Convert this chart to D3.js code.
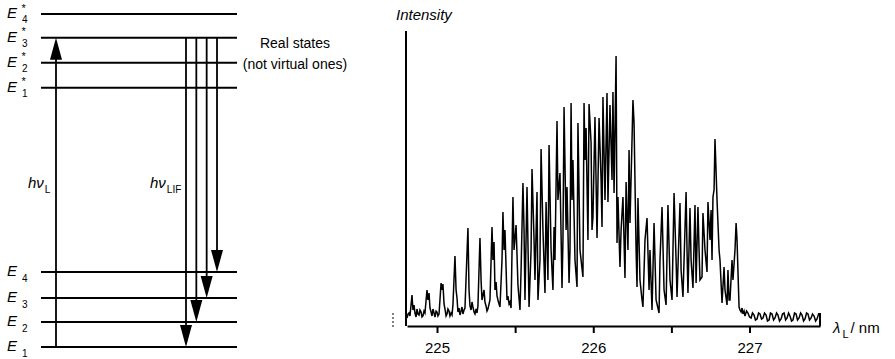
<!DOCTYPE html>
<html>
<head>
<meta charset="utf-8">
<script src="https://cdn.jsdelivr.net/npm/d3@7/dist/d3.min.js"></script>
<style>
  body { margin: 0; background: #fff; }
  svg { display: block; font-family: "Liberation Sans", Arial, sans-serif; }
</style>
</head>
<body>
<div id="chart"></div>
<script>
// energy levels (arbitrary units): ground manifold E1..E4, excited manifold E1*..E4*
const groundLevels = [0, 1, 1.96, 3];
const excitedLevels = [10.35, 11.35, 12.35, 13.3];
// laser excitation E1 -> E3*, fluorescence E3* -> E1..E4
const laserFrom = 0;
const laserTo = 2;
const lifTargets = [0, 1, 2, 3];

// LIF excitation spectrum, [wavelength nm, intensity a.u.]
const bandLow = [
  [224.808, 8], [224.815, 12], [224.821, 13], [224.827, 10], [224.840, 31], [224.846, 16], [224.853, 21], [224.859, 13],
  [224.866, 9], [224.872, 17], [224.878, 12], [224.885, 11], [224.891, 16], [224.898, 14], [224.904, 9], [224.910, 10],
  [224.917, 15], [224.923, 13], [224.936, 36], [224.942, 26], [224.949, 33], [224.955, 18], [224.962, 14], [224.968, 10],
  [224.974, 17], [224.981, 13], [224.987, 9], [224.994, 15], [225.000, 14], [225.006, 10], [225.013, 12], [225.026, 43],
  [225.032, 36], [225.038, 42], [225.045, 22], [225.051, 17], [225.058, 10], [225.064, 12], [225.070, 17], [225.077, 15],
  [225.083, 10], [225.090, 13], [225.096, 11], [225.102, 21], [225.115, 70], [225.122, 36], [225.128, 28], [225.134, 14],
  [225.141, 18], [225.147, 11], [225.154, 15], [225.160, 19], [225.166, 12], [225.173, 16], [225.179, 18],
  [225.198, 98], [225.205, 36], [225.211, 20], [225.218, 16], [225.224, 24], [225.230, 19], [225.237, 14], [225.243, 12],
  [225.250, 17], [225.256, 13], [225.262, 20], [225.275, 88], [225.282, 46], [225.288, 26], [225.301, 36], [225.307, 24],
  [225.314, 20], [225.320, 15], [225.326, 17], [225.339, 26], [225.352, 99], [225.358, 66], [225.365, 84], [225.371, 36],
  [225.378, 44], [225.384, 30], [225.390, 26], [225.397, 22], [225.403, 19], [225.416, 66], [225.422, 114], [225.429, 76],
  [225.435, 96], [225.448, 26], [225.454, 30], [225.461, 22], [225.467, 24], [225.474, 18], [225.486, 129], [225.493, 76]
];
const bandMid = [
  [225.506, 101], [225.518, 41], [225.531, 16], [225.538, 56], [225.550, 143], [225.557, 96], [225.563, 26],
  [225.576, 139], [225.589, 19], [225.602, 76], [225.608, 157], [225.621, 86], [225.627, 46], [225.640, 134],
  [225.646, 26], [225.659, 66], [225.666, 177], [225.678, 96], [225.691, 33], [225.698, 124], [225.710, 46],
  [225.717, 181], [225.730, 76], [225.742, 36], [225.749, 99], [225.755, 66], [225.768, 205], [225.774, 126],
  [225.787, 153], [225.800, 38], [225.806, 86], [225.813, 219], [225.826, 96], [225.832, 139], [225.845, 43],
  [225.851, 76], [225.858, 223], [225.864, 126], [225.870, 166], [225.883, 66], [225.896, 39], [225.902, 203],
  [225.915, 76], [225.934, 49], [225.941, 223], [225.947, 166], [225.954, 198], [225.966, 86], [225.973, 222],
  [225.986, 183], [225.992, 96], [225.998, 109], [226.011, 209], [226.024, 88], [226.037, 208], [226.050, 146],
  [226.056, 99], [226.062, 229], [226.075, 126], [226.088, 233], [226.094, 124], [226.107, 221], [226.120, 146],
  [226.126, 234], [226.133, 133], [226.146, 270], [226.152, 83], [226.158, 129], [226.171, 59], [226.178, 96],
  [226.190, 129], [226.203, 48], [226.210, 144], [226.222, 76], [226.229, 176], [226.235, 103], [226.248, 186],
  [226.254, 226], [226.261, 203], [226.274, 76], [226.280, 39], [226.286, 128]
];
const bandHigh = [
  [226.299, 46], [226.312, 26], [226.318, 19], [226.331, 86], [226.344, 108], [226.357, 36], [226.363, 76],
  [226.376, 16], [226.389, 103], [226.402, 26], [226.421, 13], [226.427, 66], [226.440, 119], [226.453, 36],
  [226.466, 21], [226.478, 121], [226.491, 46], [226.504, 26], [226.517, 133], [226.530, 66], [226.536, 29],
  [226.555, 123], [226.562, 56], [226.574, 29], [226.594, 134], [226.600, 76], [226.606, 33], [226.619, 118],
  [226.626, 66], [226.638, 38], [226.651, 121], [226.658, 43], [226.670, 119], [226.677, 76], [226.683, 46],
  [226.696, 49], [226.702, 113], [226.715, 76], [226.728, 54], [226.734, 124], [226.747, 86], [226.754, 116],
  [226.760, 66], [226.766, 129], [226.773, 136], [226.779, 187], [226.792, 126], [226.805, 76], [226.811, 66],
  [226.824, 23], [226.837, 59], [226.843, 36], [226.856, 21], [226.862, 56], [226.869, 26], [226.875, 26],
  [226.888, 66], [226.894, 46], [226.907, 76], [226.914, 103], [226.920, 86], [226.933, 19], [226.939, 16],
  [226.946, 14], [226.952, 18], [226.958, 12], [226.965, 15], [226.971, 10], [226.981, 15], [226.990, 13],
  [227.000, 9], [227.010, 8], [227.019, 13], [227.029, 11], [227.038, 6], [227.048, 7], [227.058, 13],
  [227.067, 12], [227.077, 7], [227.086, 8], [227.096, 13], [227.106, 11], [227.115, 5], [227.125, 6],
  [227.134, 13], [227.144, 12], [227.154, 6], [227.163, 8], [227.173, 13], [227.182, 11], [227.192, 5],
  [227.202, 7], [227.211, 12], [227.221, 13], [227.231, 6], [227.240, 8], [227.250, 13], [227.259, 10],
  [227.269, 5], [227.278, 6], [227.288, 13], [227.298, 12], [227.307, 6], [227.317, 8], [227.327, 13],
  [227.336, 11], [227.346, 5], [227.355, 7], [227.365, 13], [227.374, 12], [227.384, 6], [227.394, 8],
  [227.403, 12], [227.413, 10], [227.423, 5], [227.432, 7], [227.442, 12], [227.451, 11]
];
const xTicks = [225, 225.5, 226, 226.5, 227];

const width = 895, height = 359;

const svg = d3.select('#chart')
  .append('svg')
  .attr('width', width)
  .attr('height', height);

// ---------- left: energy level scheme ----------
const energy = d3.scaleLinear().domain([0, 13.3]).range([347, 14]);
const levelX = [41, 237];
const lifX = d3.scalePoint().domain(lifTargets).range([186, 217]);
const laserX = 56;

const scheme = svg.append('g');

// E with subscript index, excited levels get a star stacked above the index
function levelLabel(e, i, excited) {
  const yy = energy(e);
  scheme.append('text')
    .attr('x', 7).attr('y', yy + 4)
    .style('font-size', '15px').style('font-style', 'italic')
    .text('E');
  scheme.append('text')
    .attr('x', 22).attr('y', yy + (excited ? 9 : 10))
    .style('font-size', '10px')
    .text(i + 1);
  if (excited) {
    scheme.append('text')
      .attr('x', 21.5).attr('y', yy - 2.5)
      .style('font-size', '11px')
      .text('*');
  }
}

groundLevels.forEach((e, i) => levelLabel(e, i, false));
excitedLevels.forEach((e, i) => levelLabel(e, i, true));

scheme.selectAll('line.level')
  .data(groundLevels.concat(excitedLevels))
  .enter()
  .append('line')
  .attr('class', 'level')
  .attr('x1', levelX[0]).attr('x2', levelX[1])
  .attr('y1', d => energy(d)).attr('y2', d => energy(d))
  .style('stroke', '#000').style('stroke-width', 2);

function arrow(x, yFrom, yTo) {
  const dir = yTo > yFrom ? 1 : -1;
  scheme.append('line')
    .attr('x1', x).attr('x2', x)
    .attr('y1', yFrom).attr('y2', yTo - dir * 10)
    .style('stroke', '#000').style('stroke-width', 1.8);
  scheme.append('path')
    .attr('d', `M${x},${yTo} L${x - 6},${yTo - dir * 22} L${x + 6},${yTo - dir * 22} Z`)
    .style('fill', '#000');
}

arrow(laserX, energy(groundLevels[laserFrom]), energy(excitedLevels[laserTo]));
lifTargets.forEach(t => arrow(lifX(t), energy(excitedLevels[laserTo]), energy(groundLevels[t])));

const hvL = scheme.append('text').attr('x', 28).attr('y', 188).style('font-size', '15px');
hvL.append('tspan').style('font-style', 'italic').text('hν');
hvL.append('tspan').attr('dy', 5).attr('dx', 1).style('font-size', '10px').text('L');

const hvLif = scheme.append('text').attr('x', 150).attr('y', 188).style('font-size', '15px');
hvLif.append('tspan').style('font-style', 'italic').text('hν');
hvLif.append('tspan').attr('dy', 5).attr('dx', 1).style('font-size', '10px').text('LIF');

scheme.append('text')
  .attr('x', 295).attr('y', 48)
  .attr('text-anchor', 'middle')
  .style('font-size', '14px')
  .text('Real states');
scheme.append('text')
  .attr('x', 295).attr('y', 69)
  .attr('text-anchor', 'middle')
  .style('font-size', '14px')
  .text('(not virtual ones)');

// ---------- right: LIF excitation spectrum ----------
const x = d3.scaleLinear().domain([224.808, 227.451]).range([407, 820]);
const y = d3.scaleLinear().domain([0, 295]).range([326, 31]);

const spec = svg.append('g');

spec.append('line')
  .attr('x1', x.range()[0] - 1).attr('x2', x.range()[0] - 1)
  .attr('y1', y(295)).attr('y2', y(0))
  .style('stroke', '#000').style('stroke-width', 2);

const xAxis = spec.append('g')
  .attr('transform', `translate(0,${y(0)})`)
  .call(d3.axisBottom(x)
    .tickValues(xTicks)
    .tickSize(7)
    .tickSizeOuter(0)
    .tickPadding(9)
    .tickFormat(d => Number.isInteger(d) ? d : ''));
xAxis.select('.domain').style('stroke-width', 2.2);
xAxis.selectAll('.tick line').style('stroke-width', 2);
xAxis.selectAll('.tick text')
  .style('font-size', '15px')
  .style('font-family', '"Liberation Sans", Arial, sans-serif')
  .style('fill', '#000');

// bracket at the right end of the scan, broken-axis mark on the left
spec.append('line')
  .attr('x1', x.range()[1]).attr('x2', x.range()[1])
  .attr('y1', y(0)).attr('y2', y(0) - 13)
  .style('stroke', '#000').style('stroke-width', 2);
spec.append('line')
  .attr('x1', 393).attr('x2', 393)
  .attr('y1', y(0) - 13).attr('y2', y(0) + 2)
  .style('stroke', '#000').style('stroke-width', 1)
  .style('stroke-dasharray', '2,2');

const line = d3.line()
  .x(d => x(d[0]))
  .y(d => y(d[1]));

spec.append('path')
  .datum(bandLow.concat(bandMid, bandHigh))
  .attr('d', line)
  .style('fill', 'none')
  .style('stroke', '#000')
  .style('stroke-width', 1.5)
  .style('stroke-linejoin', 'miter');

spec.append('text')
  .attr('x', 396).attr('y', 20)
  .style('font-size', '15px').style('font-style', 'italic')
  .text('Intensity');

const xLabel = spec.append('text').attr('x', 833).attr('y', 333).style('font-size', '15px');
xLabel.append('tspan').style('font-style', 'italic').text('λ');
xLabel.append('tspan').attr('dy', 5).attr('dx', 2).style('font-size', '11px').text('L');
xLabel.append('tspan').attr('dy', -5).attr('dx', 2).text('/ nm');
</script>
</body>
</html>
